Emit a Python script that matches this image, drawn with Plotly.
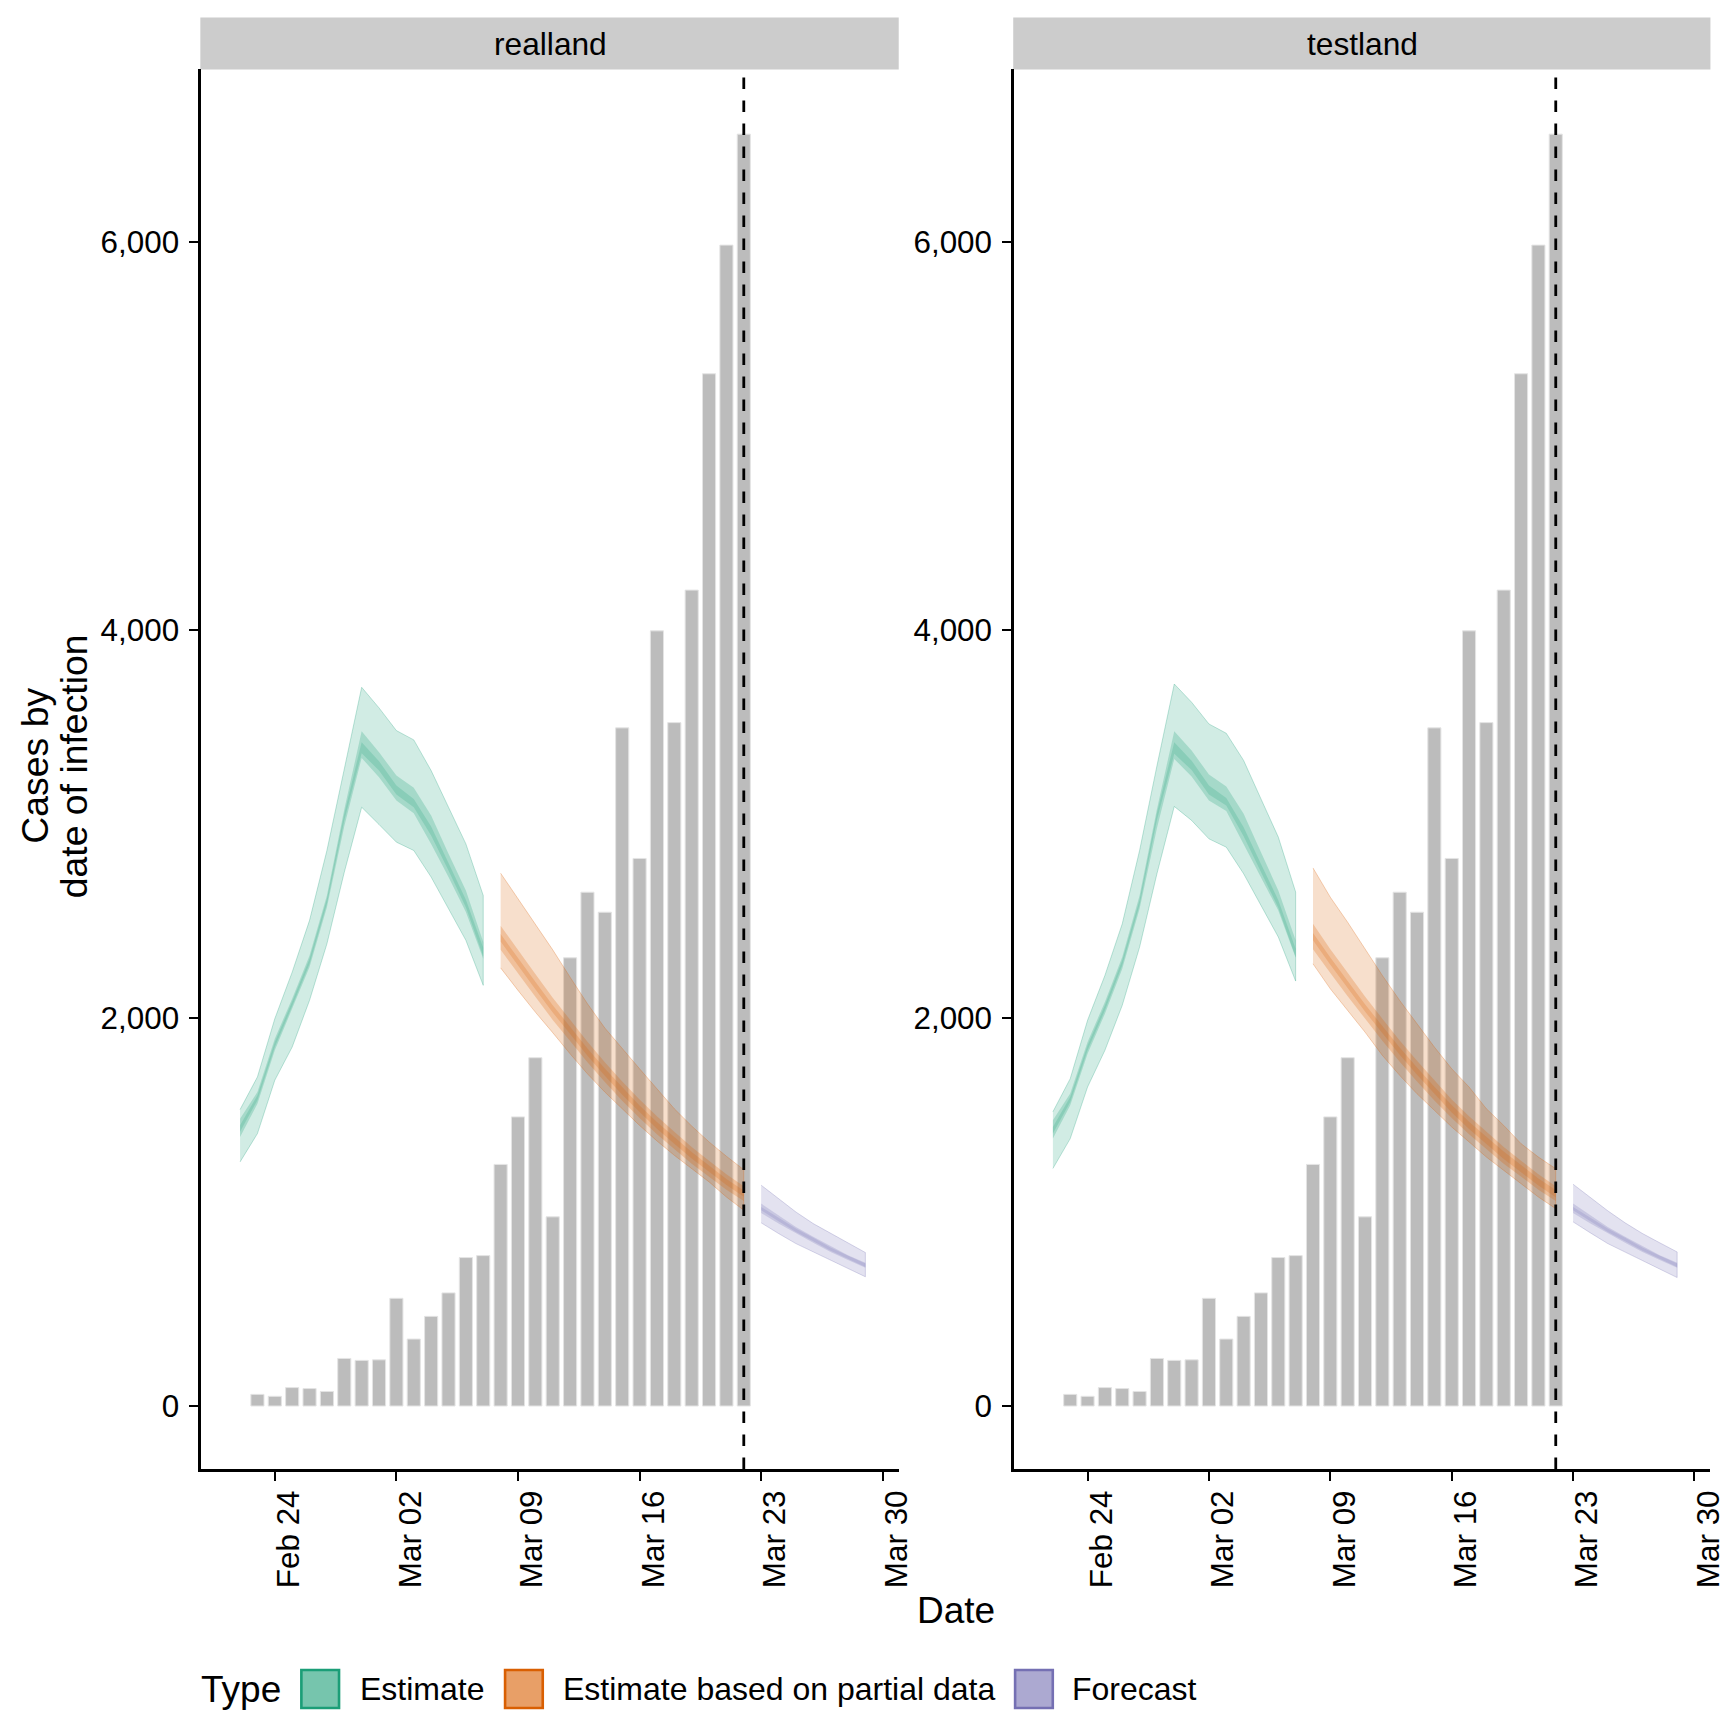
import plotly.graph_objects as go

W = H = 1728
FONT = "Liberation Sans"

panels = ["realland", "testland"]
types = ["Estimate", "Estimate based on partial data", "Forecast"]
colours = ["27,158,119", "217,95,2", "117,112,179"]

bar_dates = ["2020-02-23", "2020-02-24", "2020-02-25", "2020-02-26", "2020-02-27", "2020-02-28", "2020-02-29",
             "2020-03-01", "2020-03-02", "2020-03-03", "2020-03-04", "2020-03-05", "2020-03-06", "2020-03-07",
             "2020-03-08", "2020-03-09", "2020-03-10", "2020-03-11", "2020-03-12", "2020-03-13", "2020-03-14",
             "2020-03-15", "2020-03-16", "2020-03-17", "2020-03-18", "2020-03-19", "2020-03-20", "2020-03-21",
             "2020-03-22"]
cases = [60, 50, 95, 90, 75, 245, 235, 238, 555, 345, 462, 583, 765, 775, 1245, 1490, 1795, 975, 2310,
         2648, 2545, 3495, 2822, 3995, 3522, 4205, 5320, 5983, 6555]

est_dates = ["2020-02-22", "2020-02-23", "2020-02-24", "2020-02-25", "2020-02-26", "2020-02-27", "2020-02-28",
             "2020-02-29", "2020-03-01", "2020-03-02", "2020-03-03", "2020-03-04", "2020-03-05", "2020-03-06",
             "2020-03-07"]
part_dates = ["2020-03-08", "2020-03-09", "2020-03-10", "2020-03-11", "2020-03-12", "2020-03-13", "2020-03-14",
              "2020-03-15", "2020-03-16", "2020-03-17", "2020-03-18", "2020-03-19", "2020-03-20", "2020-03-21",
              "2020-03-22"]
fc_dates = ["2020-03-23", "2020-03-24", "2020-03-25", "2020-03-26", "2020-03-27", "2020-03-28", "2020-03-29"]

# realland
r_est_hi90 = [1528, 1696, 1996, 2236, 2503, 2863, 3283, 3704, 3598, 3481, 3433, 3275, 3086, 2897, 2631]
r_est_lo90 = [1258, 1404, 1679, 1850, 2091, 2382, 2751, 3086, 2997, 2906, 2863, 2726, 2563, 2400, 2168]
r_est_hi50 = [1481, 1618, 1893, 2099, 2322, 2631, 3074, 3478, 3369, 3249, 3186, 3043, 2846, 2657, 2391]
r_est_lo50 = [1387, 1558, 1833, 2048, 2262, 2571, 2988, 3340, 3241, 3121, 3055, 2897, 2726, 2546, 2305]
r_est_hi20 = [1447, 1601, 1876, 2085, 2305, 2614, 3052, 3421, 3323, 3198, 3129, 2987, 2798, 2609, 2362]
r_est_lo20 = [1413, 1576, 1850, 2061, 2279, 2588, 3018, 3364, 3275, 3151, 3086, 2940, 2760, 2571, 2317]

r_part_hi90 = [2746, 2614, 2481, 2351, 2210, 2073, 1948, 1841, 1738, 1635, 1532, 1443, 1361, 1287, 1218]
r_part_lo90 = [2258, 2142, 2030, 1924, 1815, 1712, 1618, 1532, 1446, 1366, 1292, 1223, 1155, 1077, 1009]
r_part_hi50 = [2475, 2348, 2226, 2104, 1990, 1877, 1772, 1673, 1580, 1493, 1414, 1335, 1264, 1194, 1132]
r_part_lo50 = [2351, 2227, 2109, 1990, 1881, 1771, 1670, 1573, 1484, 1400, 1324, 1249, 1182, 1115, 1057]
r_part_hi20 = [2432, 2306, 2186, 2066, 1954, 1843, 1740, 1642, 1549, 1464, 1386, 1309, 1240, 1170, 1110]
r_part_lo20 = [2394, 2269, 2148, 2028, 1917, 1805, 1702, 1604, 1515, 1429, 1352, 1275, 1206, 1139, 1079]

r_fc_hi90 = [1138, 1069, 1000, 940, 889, 841, 791]
r_fc_lo90 = [944, 889, 837, 794, 752, 709, 666]
r_fc_hi50 = [1043, 983, 923, 872, 824, 777, 738]
r_fc_lo50 = [995, 940, 889, 841, 794, 752, 712]
r_fc_hi20 = [1026, 970, 915, 867, 817, 774, 734]
r_fc_lo20 = [1009, 952, 897, 849, 800, 757, 717]

# testland
t_est_hi90 = [1516, 1687, 1988, 2219, 2485, 2863, 3299, 3721, 3627, 3515, 3467, 3327, 3129, 2932, 2649]
t_est_lo90 = [1224, 1378, 1644, 1833, 2065, 2365, 2743, 3090, 3018, 2923, 2880, 2743, 2580, 2417, 2190]
t_est_hi50 = [1473, 1610, 1876, 2082, 2314, 2631, 3076, 3478, 3378, 3254, 3193, 3052, 2854, 2657, 2400]
t_est_lo50 = [1378, 1550, 1816, 2022, 2254, 2563, 2978, 3335, 3244, 3121, 3066, 2897, 2726, 2554, 2310]
t_est_hi20 = [1438, 1593, 1859, 2065, 2297, 2609, 3056, 3421, 3326, 3198, 3134, 2983, 2794, 2606, 2357]
t_est_lo20 = [1404, 1567, 1833, 2039, 2271, 2583, 3020, 3361, 3278, 3151, 3095, 2937, 2755, 2568, 2314]

t_part_hi90 = [2773, 2622, 2493, 2356, 2219, 2090, 1970, 1850, 1738, 1644, 1532, 1446, 1352, 1283, 1223]
t_part_lo90 = [2279, 2150, 2039, 1927, 1807, 1704, 1609, 1524, 1438, 1361, 1283, 1215, 1146, 1077, 1017]
t_part_hi50 = [2485, 2354, 2233, 2111, 1996, 1884, 1779, 1678, 1580, 1493, 1414, 1335, 1264, 1194, 1132]
t_part_lo50 = [2354, 2231, 2112, 1994, 1882, 1774, 1673, 1575, 1484, 1400, 1324, 1249, 1182, 1115, 1057]
t_part_hi20 = [2438, 2311, 2191, 2071, 1958, 1848, 1745, 1645, 1551, 1465, 1388, 1311, 1242, 1173, 1113]
t_part_lo20 = [2401, 2274, 2154, 2033, 1920, 1810, 1707, 1608, 1513, 1427, 1350, 1273, 1204, 1136, 1076]

t_fc_hi90 = [1143, 1073, 1006, 944, 889, 841, 794]
t_fc_lo90 = [949, 892, 837, 794, 752, 705, 662]
t_fc_hi50 = [1043, 983, 923, 872, 824, 777, 738]
t_fc_lo50 = [995, 940, 889, 841, 794, 752, 712]
t_fc_hi20 = [1026, 970, 915, 867, 817, 774, 734]
t_fc_lo20 = [1009, 952, 897, 849, 800, 757, 717]

x_ticks = ["2020-02-24", "2020-03-02", "2020-03-09", "2020-03-16", "2020-03-23", "2020-03-30"]
x_labels = ["Feb 24", "Mar 02", "Mar 09", "Mar 16", "Mar 23", "Mar 30"]
y_ticks = [0, 2000, 4000, 6000]
cutoff_date = "2020-03-22"

x_range = ["2020-02-19 18:29", "2020-03-30 22:05"]
y_range = [-324.7, 6888.6]
panel_px = [(203.1, 906.6), (1023.1, 1725.4)]
panel_top, panel_bottom = 69.4, 1469.0
strip_top = 17.6


def px(x):
    return x / W


def py(y):
    return 1 - y / H


fig = go.Figure()

ribbons = [
    [(est_dates, [(r_est_lo90, r_est_hi90), (r_est_lo50, r_est_hi50), (r_est_lo20, r_est_hi20)]),
     (part_dates, [(r_part_lo90, r_part_hi90), (r_part_lo50, r_part_hi50), (r_part_lo20, r_part_hi20)]),
     (fc_dates, [(r_fc_lo90, r_fc_hi90), (r_fc_lo50, r_fc_hi50), (r_fc_lo20, r_fc_hi20)])],
    [(est_dates, [(t_est_lo90, t_est_hi90), (t_est_lo50, t_est_hi50), (t_est_lo20, t_est_hi20)]),
     (part_dates, [(t_part_lo90, t_part_hi90), (t_part_lo50, t_part_hi50), (t_part_lo20, t_part_hi20)]),
     (fc_dates, [(t_fc_lo90, t_fc_hi90), (t_fc_lo50, t_fc_hi50), (t_fc_lo20, t_fc_hi20)])],
]
band_alpha = [0.2, 0.24, 0.2]
band_names = ["90%", "50%", "20%"]

for p, panel in enumerate(panels):
    xa = "x" if p == 0 else "x2"
    ya = "y" if p == 0 else "y2"
    fig.add_trace(go.Bar(
        x=bar_dates, y=cases, xaxis=xa, yaxis=ya, name="Data", showlegend=False,
        width=0.755 * 86400000,
        marker=dict(color="#bcbcbc", line=dict(color="#e4e4e4", width=1)),
    ))
    for t, (dates, bands) in enumerate(ribbons[p]):
        c = colours[t]
        for b, (lo, hi) in enumerate(bands):
            fig.add_trace(go.Scatter(
                x=dates + dates[::-1], y=hi + lo[::-1], xaxis=xa, yaxis=ya,
                mode="lines", fill="toself", fillcolor=f"rgba({c},{band_alpha[b]})",
                line=dict(color=f"rgba({c},{0.35 if b == 0 else 0})", width=0.8),
                name=f"{types[t]} {band_names[b]}", showlegend=False, hoverinfo="skip",
            ))
    fig.add_trace(go.Scatter(
        x=[cutoff_date, cutoff_date], y=y_range, xaxis=xa, yaxis=ya, mode="lines",
        line=dict(color="black", width=2.8, dash="11.5px,11.5px"), showlegend=False, hoverinfo="skip",
        name="Cutoff",
    ))

axis_common = dict(showgrid=False, zeroline=False, showline=True, linecolor="black", linewidth=2.8,
                   ticks="outside", ticklen=9, tickwidth=2.4, tickcolor="black",
                   tickfont=dict(family=FONT, size=31.4, color="black"))
for p in range(2):
    l, r = panel_px[p]
    sfx = "" if p == 0 else "2"
    fig.update_layout(**{
        f"xaxis{sfx}": dict(domain=[px(l), px(r)], type="date", range=x_range, tickmode="array",
                            tickvals=x_ticks, ticktext=x_labels, tickangle=-90, ticklabelshift=14,
                            ticklabelstandoff=-3, anchor=f"y{sfx}", **axis_common),
        f"yaxis{sfx}": dict(domain=[py(panel_bottom), py(panel_top)], range=y_range, tickmode="array",
                            tickvals=y_ticks, tickformat=",", ticklabelstandoff=4,
                            anchor=f"x{sfx}", **axis_common),
    })

shapes = []
annos = []
for p, panel in enumerate(panels):
    l, r = panel_px[p]
    shapes.append(dict(type="rect", xref="paper", yref="paper", x0=px(l - 1), x1=px(r),
                       y0=py(panel_top), y1=py(strip_top), fillcolor="#cccccc", line_width=0, layer="below"))
    annos.append(dict(text=panel, xref="paper", yref="paper", x=px((l + r) / 2), y=py(44.5), showarrow=False,
                      xanchor="center", yanchor="middle", font=dict(family=FONT, size=31.7, color="black")))


def text(s, x, y, size, xanchor="left", angle=0):
    annos.append(dict(text=s, xref="paper", yref="paper", x=px(x), y=py(y), showarrow=False,
                      xanchor=xanchor, yanchor="middle", textangle=angle,
                      font=dict(family=FONT, size=size, color="black")))


text("Date", 964.5, 1610, 37, "center")
text("Cases by", 35, 766, 37.4, "center", -90)
text("date of infection", 75, 766, 37.4, "center", -90)
text("Type", 201, 1689, 37)

swatch_left = [304, 509.5, 1024]
label_left = [361.5, 565.5, 1079.7]
for t, name in enumerate(types):
    shapes.append(dict(type="rect", xref="paper", yref="paper", x0=px(swatch_left[t]), x1=px(swatch_left[t] + 38),
                       y0=py(1708), y1=py(1670), fillcolor=f"rgba({colours[t]},0.6)",
                       line=dict(color=f"rgb({colours[t]})", width=2.6)))
    text(name, label_left[t], 1689, 32)

fig.update_layout(
    width=W, height=H, autosize=False, margin=dict(l=0, r=0, t=0, b=0),
    paper_bgcolor="white", plot_bgcolor="white", showlegend=False, barmode="overlay",
    shapes=shapes, annotations=annos, font=dict(family=FONT, color="black"),
)
fig.write_html("out.html", config=dict(displayModeBar=False),
               post_script="document.body.style.margin='0';")
